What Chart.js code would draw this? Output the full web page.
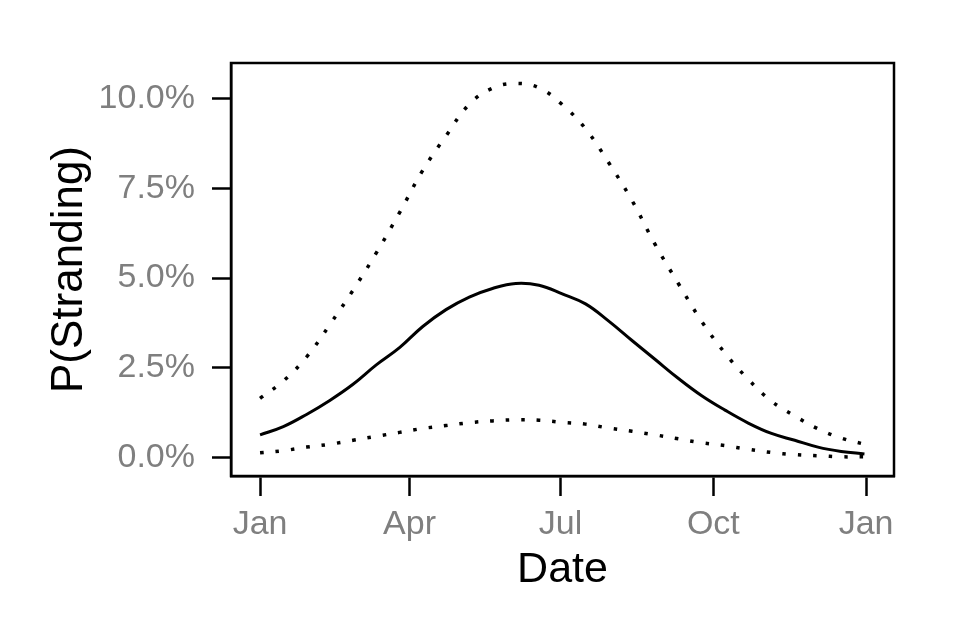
<!DOCTYPE html>
<html>
<head>
<meta charset="utf-8">
<script src="https://cdn.jsdelivr.net/npm/chart.js@4.4.1/dist/chart.umd.min.js"></script>
<style>
  html, body { margin: 0; padding: 0; background: #fff; }
  #wrap { width: 960px; height: 633px; }
</style>
</head>
<body>
<div id="wrap"><canvas id="strandChart" width="960" height="633"></canvas></div>
<script>
// day of year (0 = 1 Jan)
const days = [0, 14, 28, 42, 56, 70, 84, 98, 112, 126, 140, 154, 168, 182, 196, 210, 224, 238, 252, 266, 280, 294, 308, 322, 336, 350, 364]

// P(Stranding) in %
const estimate = [0.63, 0.86, 1.20, 1.59, 2.04, 2.58, 3.06, 3.65, 4.12, 4.47, 4.71, 4.85, 4.80, 4.56, 4.28, 3.80, 3.26, 2.73, 2.20, 1.72, 1.32, 0.96, 0.67, 0.48, 0.29, 0.17, 0.10]
const upper = [1.65, 2.13, 2.80, 3.70, 4.66, 5.70, 6.82, 8.00, 8.96, 9.84, 10.29, 10.42, 10.30, 9.83, 9.16, 8.21, 7.16, 5.93, 4.84, 3.79, 2.91, 2.18, 1.57, 1.16, 0.80, 0.54, 0.37]
const lower = [0.13, 0.19, 0.29, 0.37, 0.48, 0.59, 0.70, 0.81, 0.89, 0.97, 1.02, 1.05, 1.04, 0.98, 0.93, 0.82, 0.73, 0.63, 0.52, 0.41, 0.33, 0.23, 0.14, 0.08, 0.05, 0.02, 0.02]

const xTickDays = [0, 90, 181, 273, 365]
const xTickLabels = ['Jan', 'Apr', 'Jul', 'Oct', 'Jan']
const yTicks = [0, 2.5, 5, 7.5, 10]

const toPoints = (vals) => vals.map((v, i) => ({ x: days[i], y: v }))

const panelBox = {
  id: 'panelBox',
  afterDraw(chart) {
    const { ctx, chartArea } = chart
    ctx.save()
    ctx.strokeStyle = '#000'
    ctx.lineWidth = 2.5
    ctx.strokeRect(chartArea.left, chartArea.top, chartArea.right - chartArea.left, chartArea.bottom - chartArea.top)
    ctx.restore()
  }
}

const lineStyle = {
  fill: false,
  pointRadius: 0,
  tension: 0.4,
  borderColor: '#000'
}

const fontFamily = 'Liberation Sans, Arial, sans-serif'

const ctx = document.getElementById('strandChart')
new Chart(ctx, {
  type: 'line',
  data: {
    datasets: [
      { ...lineStyle, label: 'estimate', data: toPoints(estimate), borderWidth: 3 },
      { ...lineStyle, label: 'upper', data: toPoints(upper), borderWidth: 3.5, borderDash: [3.5, 12] },
      { ...lineStyle, label: 'lower', data: toPoints(lower), borderWidth: 3.5, borderDash: [3.5, 12] }
    ]
  },
  options: {
    responsive: false,
    animation: false,
    layout: { padding: { left: 0, right: 66, top: 63, bottom: 0 } },
    plugins: { legend: { display: false }, tooltip: { enabled: false } },
    scales: {
      x: {
        type: 'linear',
        min: -17.5,
        max: 381.8,
        afterBuildTicks: (scale) => { scale.ticks = xTickDays.map(v => ({ value: v })) },
        afterFit: (scale) => { scale.height = 157 },
        grid: { drawOnChartArea: false, drawTicks: true, tickLength: 20, tickWidth: 2.5, tickColor: '#000' },
        border: { display: true, color: '#000', width: 2.5 },
        ticks: {
          autoSkip: false,
          maxRotation: 0,
          padding: 8,
          color: '#7f7f7f',
          font: { family: fontFamily, size: 34 },
          callback: (value) => xTickLabels[xTickDays.indexOf(value)]
        },
        title: {
          display: true,
          text: 'Date',
          color: '#000',
          padding: { top: 0, bottom: 37 },
          font: { family: fontFamily, size: 43 }
        }
      },
      y: {
        min: -0.515,
        max: 10.99,
        afterBuildTicks: (scale) => { scale.ticks = yTicks.map(v => ({ value: v })) },
        afterFit: (scale) => { scale.width = 231 },
        grid: { drawOnChartArea: false, drawTicks: true, tickLength: 19, tickWidth: 2.5, tickColor: '#000' },
        border: { display: true, color: '#000', width: 2.5 },
        ticks: {
          padding: 17,
          color: '#7f7f7f',
          font: { family: fontFamily, size: 34 },
          callback: (value) => value.toFixed(1) + '%'
        },
        title: {
          display: true,
          text: 'P(Stranding)',
          color: '#000',
          padding: { top: 43, bottom: 0 },
          font: { family: fontFamily, size: 44 }
        }
      }
    }
  },
  plugins: [panelBox]
})
</script>
</body>
</html>
